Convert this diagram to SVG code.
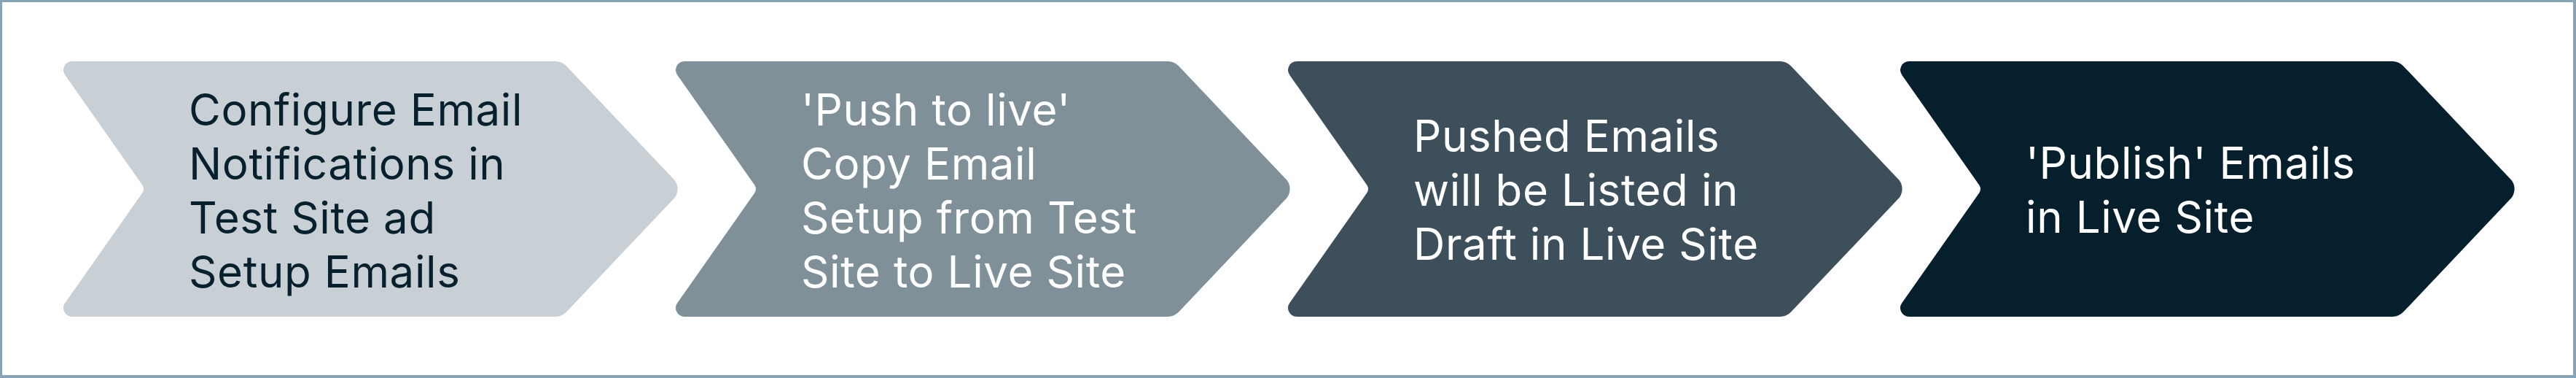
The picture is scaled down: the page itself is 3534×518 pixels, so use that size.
<svg xmlns="http://www.w3.org/2000/svg" width="3534" height="518" viewBox="0 0 3534 518">
<style>
.lbl{font-family:Inter,"Liberation Sans",sans-serif;font-size:60px;font-weight:400;letter-spacing:0.6px}
.dark{fill:#06212d}
.light{fill:#ffffff}
</style>
<defs>
<path id="chev" d="M 99,84 L 762.2,84 A 22 22 0 0 1 777.1,90.4 L 922.5,243.7 A 20 20 0 0 1 922.5,274.3 L 777.1,427.6 A 22 22 0 0 1 762.2,434 L 99,434 A 12 12 0 0 1 89.2,415.2 L 195,264.7 A 10 10 0 0 0 195,253.3 L 89.2,102.8 A 12 12 0 0 1 99,84 Z"/>
</defs>
<rect x="0" y="0" width="3534" height="518" fill="#87a3b4"/>
<rect x="3" y="3" width="3527" height="511" fill="#ffffff"/>
<g id="node1">
<use href="#chev" fill="#c9d0d5"/>
<text class="lbl dark" x="259"><tspan x="259" y="172">Configure Email</tspan><tspan x="259" y="246">Notifications in</tspan><tspan x="259" y="320">Test Site ad</tspan><tspan x="259" y="394">Setup Emails</tspan></text>
</g>
<g id="node2" transform="translate(840,0)">
<use href="#chev" fill="#7f9099"/>
<text class="lbl light" x="259"><tspan x="259" y="172">'Push to live'</tspan><tspan x="259" y="246">Copy Email</tspan><tspan x="259" y="320">Setup from Test</tspan><tspan x="259" y="394">Site to Live Site</tspan></text>
</g>
<g id="node3" transform="translate(1680,0)">
<use href="#chev" fill="#3d4f5a"/>
<text class="lbl light" x="259"><tspan x="259" y="208">Pushed Emails</tspan><tspan x="259" y="282">will be Listed in</tspan><tspan x="259" y="356">Draft in Live Site</tspan></text>
</g>
<g id="node4" transform="translate(2520,0)">
<use href="#chev" fill="#05202c"/>
<text class="lbl light" x="259"><tspan x="259" y="245">'Publish' Emails</tspan><tspan x="259" y="319">in Live Site</tspan></text>
</g>
<g id="connectors"></g>
</svg>
